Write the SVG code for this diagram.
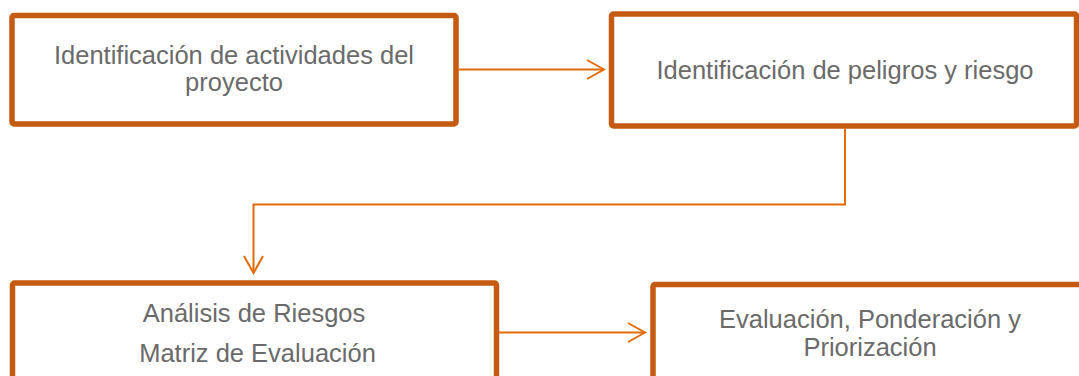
<svg xmlns="http://www.w3.org/2000/svg" width="1079" height="376" viewBox="0 0 1079 376">
  <style>
    .box { fill: #ffffff; stroke: #C55A11; stroke-width: 5.5; }
    .lbl { font-family: "Liberation Sans", Arial, sans-serif; font-size: 25.5px; fill: #6a6a6a; text-anchor: middle; }
    .conn { fill: none; stroke: #E36C0A; stroke-width: 2; }
  </style>
  <defs>
    <marker id="arrow" markerUnits="userSpaceOnUse" markerWidth="20" markerHeight="22" refX="17" refY="10" orient="auto" overflow="visible">
      <path d="M0,0.5 L17,10 L0,19.5" fill="none" stroke="#E36C0A" stroke-width="2"/>
    </marker>
  </defs>
  <rect width="1079" height="376" fill="#ffffff"/>

  <g id="n1">
    <rect class="box" x="12" y="15.5" width="444" height="108.5" rx="2"/>
    <text class="lbl" x="234" y="64">Identificación de actividades del</text>
    <text class="lbl" x="234" y="91">proyecto</text>
  </g>

  <g id="n2">
    <rect class="box" x="611.5" y="14" width="465" height="112" rx="2"/>
    <text class="lbl" x="845" y="79">Identificación de peligros y riesgo</text>
  </g>

  <g id="n3">
    <rect class="box" x="12.5" y="283" width="484" height="140" rx="2"/>
    <text class="lbl" x="254" y="322">Análisis de Riesgos</text>
    <text class="lbl" x="257.5" y="362">Matriz de Evaluación</text>
  </g>

  <g id="n4">
    <rect class="box" x="653" y="284.5" width="480" height="140" rx="2"/>
    <text class="lbl" x="870" y="328">Evaluación, Ponderación y</text>
    <text class="lbl" x="870" y="356">Priorización</text>
  </g>

  <g id="connectors">
    <path class="conn" d="M458,69.5 L604,69.5" marker-end="url(#arrow)"/>
    <path class="conn" d="M845,128 V204.5 H253.5 V273" marker-end="url(#arrow)"/>
    <path class="conn" d="M499,332.5 H645" marker-end="url(#arrow)"/>
  </g>
</svg>
